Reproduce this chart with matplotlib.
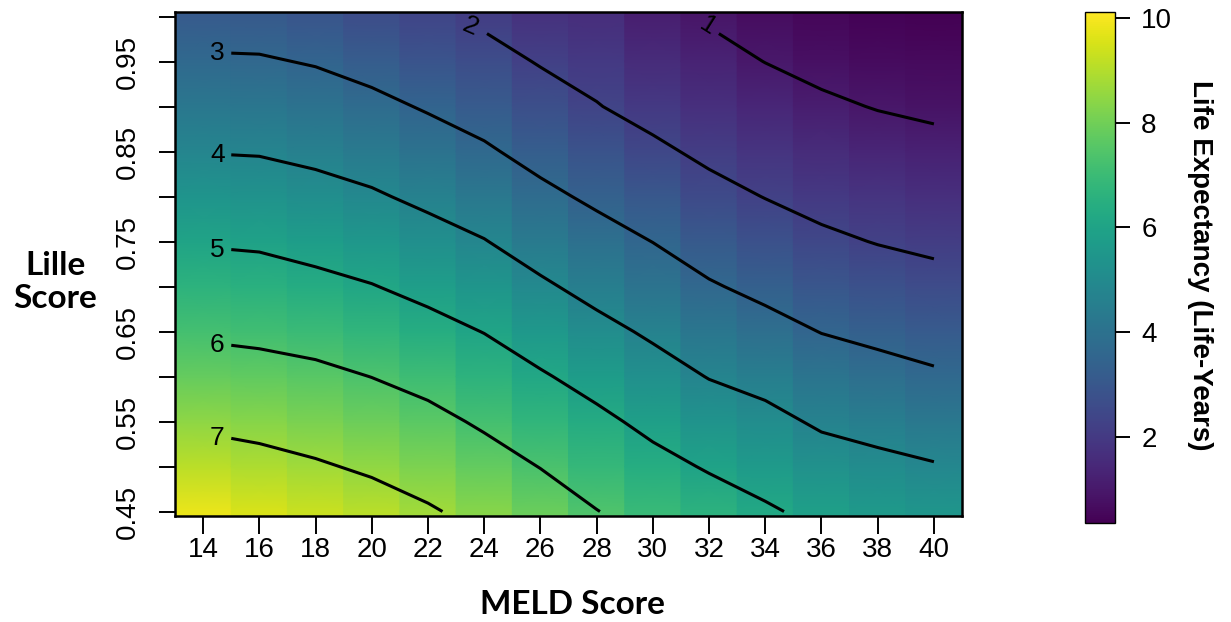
import numpy as np
import matplotlib
matplotlib.use('Agg')
import matplotlib.pyplot as plt
from matplotlib.colors import Normalize
from matplotlib.cm import ScalarMappable

# grid of the heat map: MELD score columns, Lille score rows
meld = [14, 16, 18, 20, 22, 24, 26, 28, 30, 32, 34, 36, 38, 40]
lille = [0.45, 0.50, 0.55, 0.60, 0.65, 0.70, 0.75, 0.80, 0.85, 0.90, 0.95, 1.00]

# life expectancy, one row per Lille score (bottom row first)
life_exp = [
    [7.92, 7.72, 7.53, 7.34, 7.08, 6.77, 6.42, 6.02, 5.68, 5.39, 5.10, 4.80, 4.63, 4.51],  # 0.45
    [7.37, 7.24, 7.08, 6.89, 6.65, 6.33, 5.98, 5.60, 5.24, 4.93, 4.66, 4.36, 4.19, 4.05],  # 0.50
    [6.87, 6.77, 6.63, 6.44, 6.22, 5.89, 5.53, 5.18, 4.80, 4.45, 4.22, 3.89, 3.74, 3.58],  # 0.55
    [6.37, 6.29, 6.18, 5.99, 5.75, 5.44, 5.08, 4.72, 4.33, 3.97, 3.75, 3.44, 3.27, 3.10],  # 0.60
    [5.89, 5.82, 5.70, 5.51, 5.26, 4.98, 4.60, 4.23, 3.88, 3.52, 3.26, 2.98, 2.82, 2.67],  # 0.65
    [5.42, 5.36, 5.21, 5.03, 4.78, 4.50, 4.12, 3.75, 3.43, 3.07, 2.81, 2.56, 2.39, 2.24],  # 0.70
    [4.94, 4.89, 4.73, 4.56, 4.30, 4.03, 3.64, 3.30, 2.99, 2.65, 2.39, 2.14, 1.97, 1.85],  # 0.75
    [4.46, 4.42, 4.27, 4.09, 3.83, 3.56, 3.18, 2.86, 2.57, 2.23, 1.98, 1.77, 1.64, 1.52],  # 0.80
    [3.98, 3.95, 3.82, 3.64, 3.38, 3.10, 2.75, 2.45, 2.14, 1.85, 1.65, 1.44, 1.30, 1.19],  # 0.85
    [3.54, 3.51, 3.38, 3.19, 2.93, 2.68, 2.35, 2.03, 1.76, 1.54, 1.32, 1.11, 0.97, 0.88],  # 0.90
    [3.09, 3.07, 2.95, 2.74, 2.49, 2.27, 1.95, 1.76, 1.45, 1.22, 0.99, 0.82, 0.73, 0.68],  # 0.95
    [2.66, 2.64, 2.51, 2.29, 2.06, 1.86, 1.60, 1.50, 1.15, 0.93, 0.76, 0.62, 0.54, 0.48],  # 1.00
]

contour_levels = [1, 2, 3, 4, 5, 6, 7]

lille_ticks = [0.45, 0.55, 0.65, 0.75, 0.85, 0.95]
lille_minor = [0.50, 0.60, 0.70, 0.80, 0.90, 1.00]
lille_tick_labels = ['0.45', '0.55', '0.65', '0.75', '0.85', '0.95']

# the colour bar in the source runs 0.36..10.11, but its colours sit higher than the
# contour labels; the grid is kept in contour units and coloured with a stretched range
cbar_range = (0.36, 10.11)
cbar_ticks = [2, 4, 6, 8, 10]
heat_range = (0.50, 8.17)

num_font = 'Liberation Sans'
title_font = 'Lato'

z = np.array(life_exp)
m = np.array(meld, dtype=float)
l = np.array(lille)

fig = plt.figure(figsize=(12.31, 6.22), dpi=100)
ax = fig.add_axes([0.1422, 0.1704, 0.6393, 0.8103])
cax = fig.add_axes([0.8814, 0.1592, 0.0244, 0.8215])

norm = Normalize(*heat_range)
# every MELD column is a 2-unit strip, shaded smoothly along the Lille axis
y_edges = np.concatenate([[l[0] - 0.005], l, [l[-1] + 0.005]])
for j, mx in enumerate(m):
    col = np.concatenate([[z[0, j]], z[:, j], [z[-1, j]]])
    ax.pcolormesh([mx - 1, mx + 1], y_edges, np.column_stack([col, col]),
                  shading='gouraud', cmap='viridis', norm=norm)

ax.set_xlim(13, 41)
ax.set_ylim(0.445, 1.005)


def trim(seg, axis, cut, keep_above):
    v = seg[:, axis]
    inside = v >= cut if keep_above else v <= cut
    out = []
    for k in range(len(seg)):
        if k > 0 and inside[k] != inside[k - 1]:
            t = (cut - v[k - 1]) / (v[k] - v[k - 1])
            out.append(seg[k - 1] + t * (seg[k] - seg[k - 1]))
        if inside[k]:
            out.append(seg[k])
    return np.array(out)


cs = ax.contour(m, l, z, levels=contour_levels)
paths = cs.get_paths()
cs.remove()

for level, path in zip(contour_levels, paths):
    for seg in path.to_polygons(closed_only=False):
        if len(seg) < 2:
            continue
        seg = seg[np.argsort(seg[:, 0])]
        if level >= 3:
            line = trim(seg, 0, 15.0, True)
            ax.plot(line[:, 0], line[:, 1], color='black', lw=2.2, solid_capstyle='butt')
            ax.text(14.5, line[0, 1], str(level), ha='center', va='center',
                    fontsize=19, family=num_font)
        else:
            line = trim(seg, 1, 0.981, False)
            ax.plot(line[:, 0], line[:, 1], color='black', lw=2.2, solid_capstyle='butt')
            # label sits in the gap at the top end of the line, turned along it
            order = np.argsort(seg[:, 1])
            lx = np.interp(0.989, seg[order, 1], seg[order, 0])
            p0 = ax.transData.transform((lx, 0.989))
            p1 = ax.transData.transform(line[0])
            ang = np.degrees(np.arctan2(p1[1] - p0[1], p1[0] - p0[0]))
            ax.text(lx, 0.989, str(level), ha='center', va='center', rotation=ang,
                    rotation_mode='anchor', fontsize=19, family=num_font)

ax.set_xticks(meld)
ax.set_xticklabels([str(v) for v in meld], family=num_font, fontsize=20)
ax.set_yticks(lille_ticks)
ax.set_yticklabels(lille_tick_labels, family=num_font, fontsize=20, rotation=90, va='center')
ax.set_yticks(lille_minor, minor=True)
ax.tick_params(axis='x', length=13, width=1.4, pad=2)
ax.tick_params(axis='y', which='both', length=11.5, width=1.4, pad=13)
for s in ax.spines.values():
    s.set_linewidth(1.8)

fig.text(572 / 1231, 1 - 605 / 622, 'MELD Score', ha='center', va='center',
         fontsize=24, fontweight='bold', family=title_font)
fig.text(55 / 1231, 1 - 282 / 622, 'Lille\nScore', ha='center', va='center',
         fontsize=24, fontweight='bold', family=title_font, linespacing=1.2)

sm = ScalarMappable(norm=Normalize(*cbar_range), cmap='viridis')
cb = fig.colorbar(sm, cax=cax, ticks=cbar_ticks)
cb.outline.set_linewidth(1.0)
cax.tick_params(length=10.8, width=1.4, pad=8, labelsize=20)
for t in cax.get_yticklabels():
    t.set_family(num_font)
fig.text(1200 / 1231, 1 - 265 / 622, 'Life Expectancy (Life-Years)', rotation=270,
         ha='center', va='center', fontsize=20, fontweight='bold', family=num_font)

fig.savefig('out.png', dpi=100)
